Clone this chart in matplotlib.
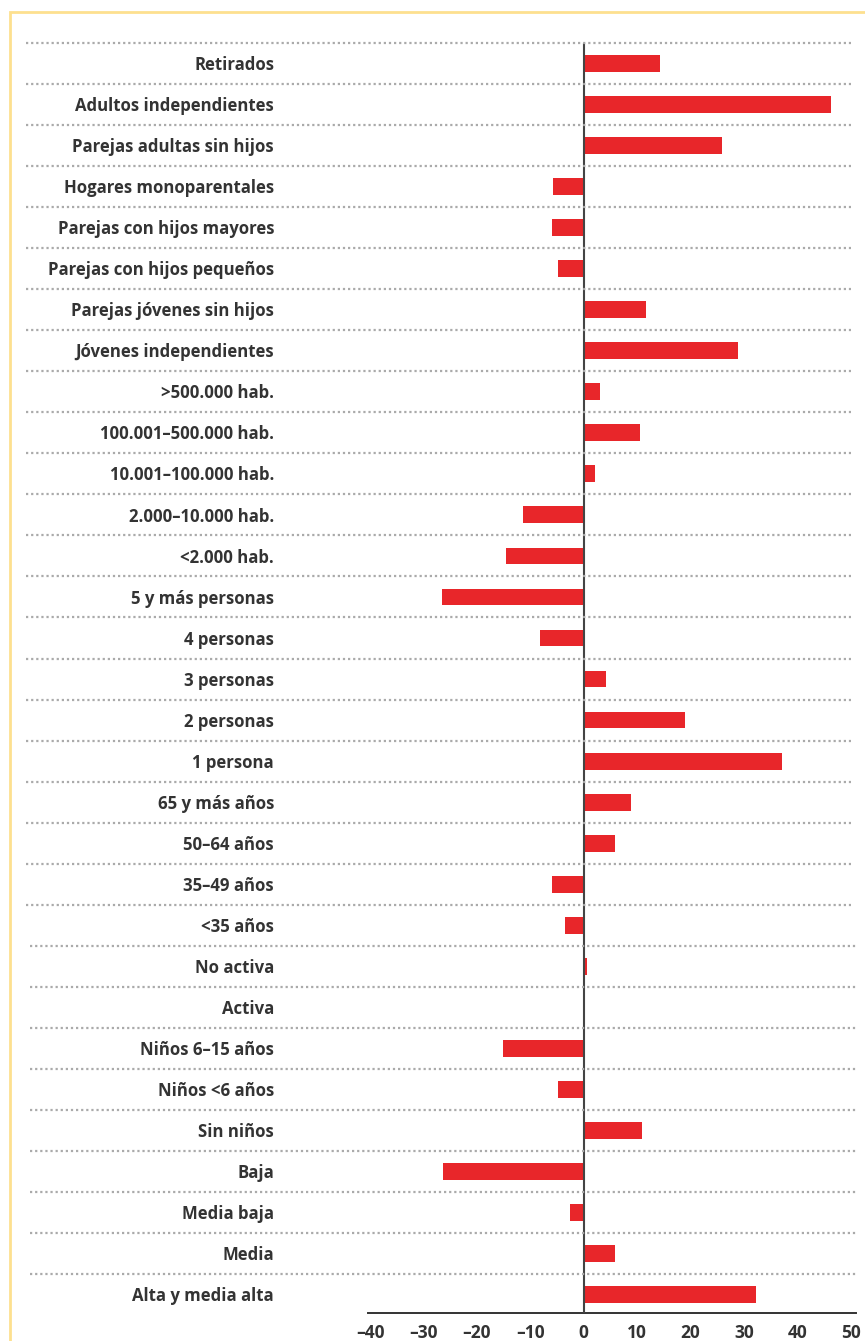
import matplotlib.pyplot as plt
import matplotlib.transforms as mtransforms
from matplotlib.patches import Rectangle
from matplotlib.lines import Line2D

categories = [
    "Retirados", "Adultos independientes", "Parejas adultas sin hijos",
    "Hogares monoparentales", "Parejas con hijos mayores", "Parejas con hijos pequeños",
    "Parejas jóvenes sin hijos", "Jóvenes independientes",
    ">500.000 hab.", "100.001–500.000 hab.", "10.001–100.000 hab.",
    "2.000–10.000 hab.", "<2.000 hab.",
    "5 y más personas", "4 personas", "3 personas", "2 personas", "1 persona",
    "65 y más años", "50–64 años", "35–49 años", "<35 años",
    "No activa", "Activa",
    "Niños 6–15 años", "Niños <6 años", "Sin niños",
    "Baja", "Media baja", "Media", "Alta y media alta",
]
values = [
    14.2, 46.4, 25.9,
    -5.8, -6.0, -4.8,
    11.7, 28.9,
    3.0, 10.6, 2.2,
    -11.4, -14.5,
    -26.6, -8.2, 4.1, 19.0, 37.1,
    8.8, 5.8, -6.0, -3.5,
    0.7, 0.2,
    -15.1, -4.8, 11.0,
    -26.4, -2.6, 5.8, 32.2,
]
xticks = [-40, -30, -20, -10, 0, 10, 20, 30, 40, 50]
xtick_labels = [str(t).replace("-", "–") for t in xticks]

W, H = 865, 1341
plt.rcParams['font.family'] = ['Open Sans', 'DejaVu Sans']

fig = plt.figure(figsize=(W / 100, H / 100), dpi=100)
ax = fig.add_axes([368 / W, 1 - 1313 / H, (856 - 368) / W, (1313 - 43) / H])

n = len(categories)
pos = list(range(n))
ax.barh(pos, values, height=0.41, color="#e8262a", zorder=2)

ax.set_ylim(30.45 + (n - 31), -0.5)
ax.set_xlim(-40.4, 51)
ax.axvline(0, color="#444444", lw=1.5, zorder=3)

for s in ["top", "right", "left"]:
    ax.spines[s].set_visible(False)
ax.spines["bottom"].set_color("#333333")
ax.spines["bottom"].set_linewidth(1.4)
ax.set_yticks([])
ax.set_xticks(xticks)
ax.set_xticklabels(xtick_labels, fontsize=12.5, color="#333333", fontweight="bold")
ax.tick_params(axis="x", length=0, pad=8)

# dotted separators, running out past the axes to the left
trans = mtransforms.blended_transform_factory(fig.transFigure, ax.transData)
for i in range(n):
    x0 = 26 / W if i < 22 else 30 / W
    x1 = 851 / W if i < 22 else 856 / W
    fig.add_artist(Line2D([x0, x1], [i - 0.5, i - 0.5], transform=trans,
                          color="#aaaaaa", lw=1.6, linestyle=(0, (1, 1.3)), zorder=1))
    ax.text(274 / W, i + 0.04, categories[i], transform=trans, ha="right", va="center",
            fontsize=12.1, color="#333333", fontweight="bold")

# yellow frame
fig.add_artist(Rectangle((10 / W, -0.1), 1.2, 1 - 12 / H + 0.1, transform=fig.transFigure,
                         fill=False, edgecolor="#fde08f", lw=2))

fig.savefig("out.png", dpi=100)
